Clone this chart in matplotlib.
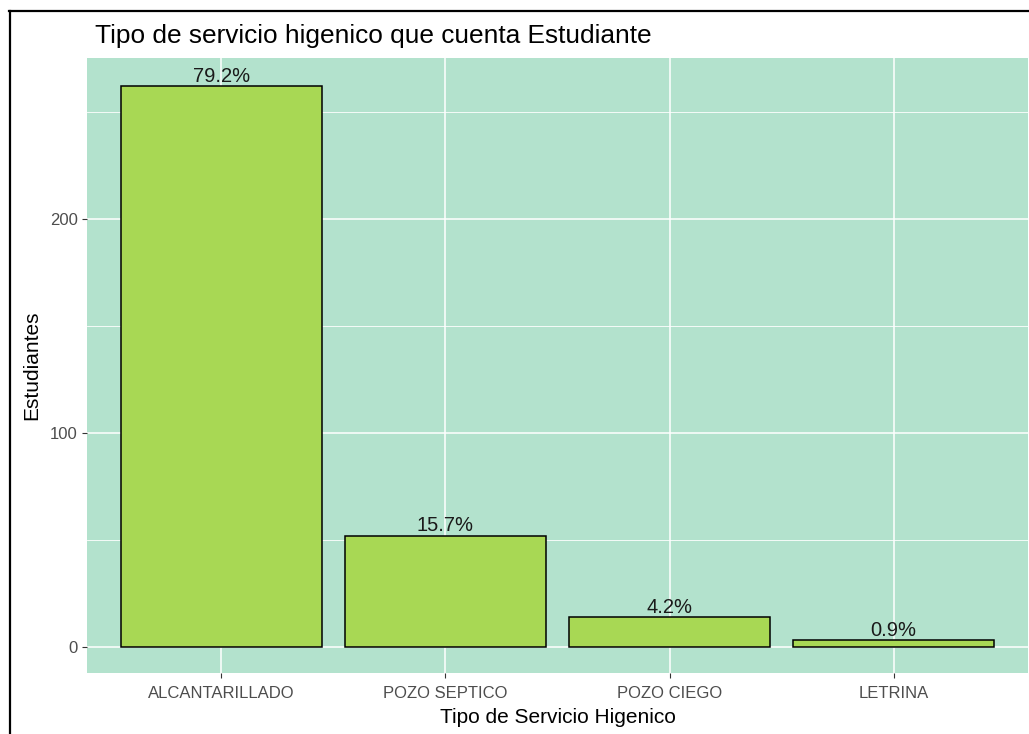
import matplotlib
matplotlib.use("Agg")
import matplotlib.pyplot as plt
from matplotlib.lines import Line2D
from matplotlib.ticker import MultipleLocator

categories = ["ALCANTARILLADO", "POZO SEPTICO", "POZO CIEGO", "LETRINA"]
counts = [262, 52, 14, 3]
pct_labels = ["79.2%", "15.7%", "4.2%", "0.9%"]
yticks = [0, 100, 200]

plt.rcParams['font.family'] = ['Liberation Sans', 'DejaVu Sans']

W, H = 1029, 734
fig = plt.figure(figsize=(W / 100, H / 100), dpi=100)
fig.patch.set_facecolor("white")

px_l, px_r, px_t, px_b = 87, 1028, 58, 673
ax = fig.add_axes([px_l / W, (H - px_b) / H, (px_r - px_l) / W, (px_b - px_t) / H])
ax.set_facecolor("#b3e2cd")

x = list(range(len(categories)))
ax.bar(x, counts, width=0.9, color="#a8d854", edgecolor="black", linewidth=1.1, zorder=3)
for xi, c, lab in zip(x, counts, pct_labels):
    ax.annotate(lab, (xi, c), xytext=(0, 3), textcoords="offset points",
                ha="center", va="baseline", fontsize=14.5, color="#1a1a1a", zorder=4)

ax.set_xlim(-0.6, 3.6)
ax.set_ylim(-12.2, 275.2)
ax.set_xticks(x)
ax.set_xticklabels(categories)
ax.set_yticks(yticks)
ax.yaxis.set_minor_locator(MultipleLocator(50))
ax.grid(which="major", color="white", linewidth=1.1, zorder=0)
ax.grid(which="minor", axis="y", color="white", linewidth=0.6, zorder=0)
ax.set_axisbelow(True)
for s in ax.spines.values():
    s.set_visible(False)
ax.tick_params(axis="both", which="major", length=3.7, width=0.8, color="#333333",
               labelsize=12, labelcolor="#4d4d4d", pad=3)
ax.tick_params(axis="x", which="major", pad=5.5)
ax.tick_params(axis="y", which="minor", length=0)

ax.set_xlabel("Tipo de Servicio Higenico", fontsize=15, color="black", labelpad=5.5)
ax.set_ylabel("Estudiantes", fontsize=15, color="black", labelpad=6)

fig.text(95 / W, 1 - 36 / H, "Tipo de servicio higenico que cuenta Estudiante",
         fontsize=18.9, color="black", ha="left", va="center")

fig.add_artist(Line2D([9 / W, 1.0], [1 - 11 / H, 1 - 11 / H], color="black", linewidth=1.6,
                      transform=fig.transFigure))
fig.add_artist(Line2D([10 / W, 10 / W], [0, 1 - 11 / H], color="black", linewidth=1.6,
                      transform=fig.transFigure))

fig.savefig("out.png", dpi=100)
